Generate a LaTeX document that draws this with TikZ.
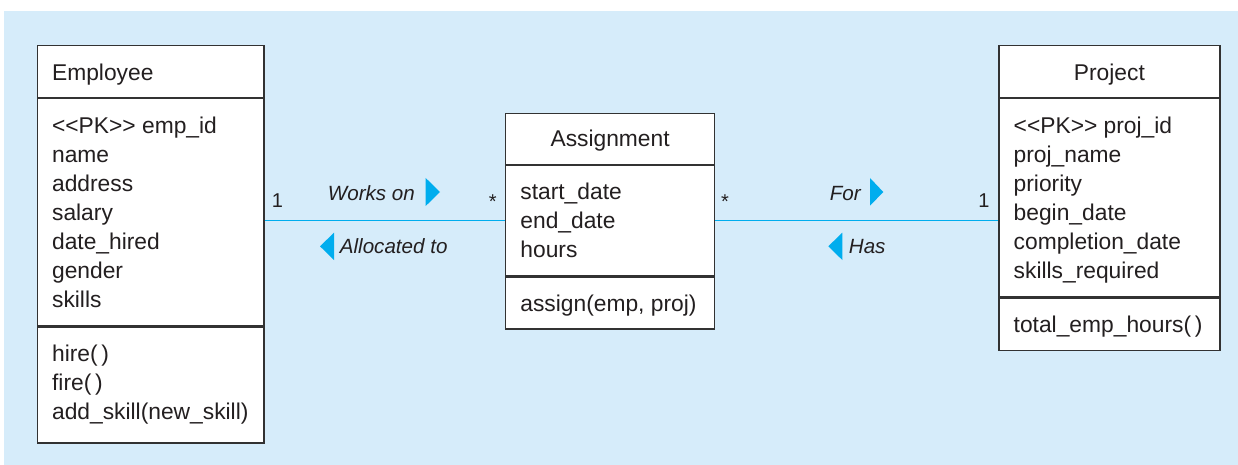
\documentclass[tikz,border=0pt]{standalone}
\usepackage{fontspec}
\setmainfont{Liberation Sans}[Ligatures=TeXOff]
\usetikzlibrary{positioning}

\definecolor{bgblue}{RGB}{214,236,250}
\definecolor{assocblue}{RGB}{0,173,238}
\definecolor{ink}{RGB}{35,31,32}
\definecolor{boxline}{RGB}{50,50,50}

\tikzset{
  compart/.style={draw=boxline, fill=white, line width=0.6pt, inner sep=0pt},
  classtxt/.style={anchor=north west, inner sep=0pt, text=ink, align=left,
    font=\fontsize{11.4}{14.5}\selectfont},
  headtxt/.style={classtxt, anchor=north, align=center},
  assoc/.style={draw=assocblue, line width=0.7pt},
  tri/.style={fill=assocblue},
  rolelbl/.style={anchor=base west, inner sep=0pt, text=ink, font=\fontsize{10.3}{12}\selectfont\itshape},
  multlbl/.style={anchor=base, inner sep=0pt, text=ink, font=\fontsize{10}{12}\selectfont}
}

\begin{document}
\begin{tikzpicture}[x=0.5pt,y=0.5pt,yscale=-1,xscale=1]
  % canvas and background panel
  \useasboundingbox (0,0) rectangle (1238,465);
  \fill[bgblue] (4,11) rectangle (1238,465);

  %Class: Employee
  \node[compart, anchor=north west, minimum width=113.3pt, minimum height=25.85pt] (emphead) at (36.7,45) {};
  \node[compart, anchor=north, minimum width=113.3pt, minimum height=113.65pt] (empattr) at (emphead.south) {};
  \node[compart, anchor=north, minimum width=113.3pt, minimum height=58pt] (empmeth) at (empattr.south) {};
  \node[classtxt] (empname) at ([xshift=7.5pt,yshift=7.35pt]emphead.north west) {\strut Employee};
  \node[classtxt] (empattrs) at ([xshift=7.5pt,yshift=7.35pt]empattr.north west)
    {\strut <<PK>> emp\_id\\name\\address\\salary\\date\_hired\\gender\\skills};
  \node[classtxt] (empops) at ([xshift=7.5pt,yshift=7.35pt]empmeth.north west)
    {\strut hire(\,)\\fire(\,)\\add\_skill(new\_skill)};

  %Class: Assignment
  \node[compart, anchor=north west, minimum width=104.5pt, minimum height=25.65pt] (asghead) at (505,112.7) {};
  \node[compart, anchor=north, minimum width=104.5pt, minimum height=55pt] (asgattr) at (asghead.south) {};
  \node[compart, anchor=north, minimum width=104.5pt, minimum height=26pt] (asgmeth) at (asgattr.south) {};
  \node[headtxt] (asgname) at ([yshift=6.6pt]asghead.north) {\strut Assignment};
  \node[classtxt] (asgattrs) at ([xshift=7.5pt,yshift=6.9pt]asgattr.north west)
    {\strut start\_date\\end\_date\\hours};
  \node[classtxt] (asgops) at ([xshift=7.5pt,yshift=7.35pt]asgmeth.north west)
    {\strut assign(emp, proj)};

  %Class: Project
  \node[compart, anchor=north west, minimum width=110.5pt, minimum height=25.85pt] (prjhead) at (998.3,45) {};
  \node[compart, anchor=north, minimum width=110.5pt, minimum height=99.15pt] (prjattr) at (prjhead.south) {};
  \node[compart, anchor=north, minimum width=110.5pt, minimum height=26.15pt] (prjmeth) at (prjattr.south) {};
  \node[headtxt] (prjname) at ([yshift=7.35pt]prjhead.north) {\strut Project};
  \node[classtxt] (prjattrs) at ([xshift=7.5pt,yshift=7.35pt]prjattr.north west)
    {\strut <<PK>> proj\_id\\proj\_name\\priority\\begin\_date\\completion\_date\\skills\_required};
  \node[classtxt] (prjops) at ([xshift=7.5pt,yshift=7.35pt]prjmeth.north west)
    {\strut total\_emp\_hours(\,)};

  %Associations
  \draw[assoc] (empattr.east |- asgattr.west) -- (asgattr.west);
  \draw[assoc] (asgattr.east) -- (prjattr.west |- asgattr.east);

  % multiplicities
  \node[multlbl] (multemp) at (277.5,207.5) {1};
  \node[multlbl] (multasgl) at (492.7,208) {*};
  \node[multlbl] (multasgr) at (725,208) {*};
  \node[multlbl] (multprj) at (984,207.5) {1};

  % role names
  \node[rolelbl] (workslbl) at (327.5,200) {Works on};
  \node[rolelbl] (alloclbl) at (339.5,253) {Allocated to};
  \node[rolelbl] (forlbl) at (829.5,200) {For};
  \node[rolelbl] (haslbl) at (848.5,253) {Has};

  % reading direction triangles
  \fill[tri] (425.7,178) -- (440,192) -- (425.7,206) -- cycle;
  \fill[tri] (334,232.7) -- (320,246.3) -- (334,260) -- cycle;
  \fill[tri] (870,178) -- (883.3,192) -- (870,205.7) -- cycle;
  \fill[tri] (842.3,232.7) -- (828.3,246.3) -- (842.3,260) -- cycle;
\end{tikzpicture}
\end{document}
